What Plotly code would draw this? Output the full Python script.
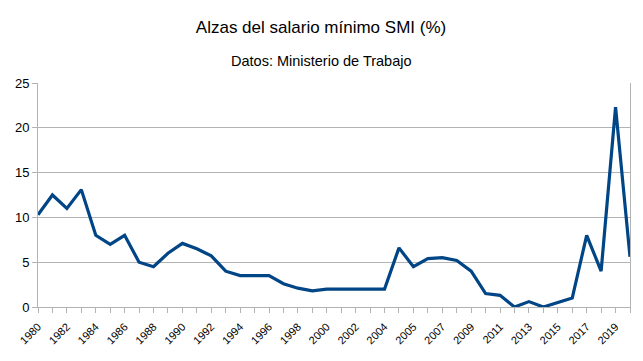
import plotly.graph_objects as go

years = ["1980", "1981", "1982", "1983", "1984", "1985", "1986", "1987", "1988", "1989",
         "1990", "1991", "1992", "1993", "1994", "1995", "1996", "1997", "1998", "1999",
         "2000", "2001", "2002", "2003", "2004", "2004", "2005", "2006", "2007", "2008",
         "2009", "2010", "2011", "2012", "2013", "2014", "2015", "2016", "2017", "2018",
         "2019", "2020"]
alzas = [10.3, 12.5, 11.0, 13.1, 8.0, 7.0, 8.0, 5.0, 4.5, 6.0,
         7.1, 6.5, 5.7, 4.0, 3.5, 3.5, 3.5, 2.6, 2.1, 1.8,
         2.0, 2.0, 2.0, 2.0, 2.0, 6.6, 4.5, 5.4, 5.5, 5.2,
         4.0, 1.5, 1.3, 0.0, 0.6, 0.0, 0.5, 1.0, 8.0, 4.0,
         22.3, 5.6]
y_ticks = [0, 5, 10, 15, 20, 25]

idx = list(range(len(years)))
ticktext = [y if i % 2 == 0 else "" for i, y in enumerate(years)]

# page body has an 8px margin, so the figure starts at (8, 8) in the window
OFF = 8
W, H = 643 - OFF, 361 - OFF
ML, MR, MT, MB = 38 - OFF, 13, 83 - OFF, 54
PH = H - MT - MB

fig = go.Figure(go.Scatter(x=idx, y=alzas, mode="lines",
                           line=dict(color="#004586", width=3.2),
                           hoverinfo="skip"))

fig.update_layout(
    width=W, height=H,
    margin=dict(l=ML, r=MR, t=MT, b=MB, autoexpand=False),
    paper_bgcolor="white", plot_bgcolor="white",
    font=dict(family="Liberation Sans, Arial, sans-serif", color="#000000"),
    showlegend=False,
    title=dict(text="Alzas del salario mínimo SMI (%)", x=(321 - OFF) / W, xanchor="center",
               y=1 - (27 - OFF) / H, yanchor="middle", yref="container",
               font=dict(size=17, color="#000000")),
    annotations=[dict(text="Datos: Ministerio de Trabajo", x=(321 - OFF - ML) / (W - ML - MR),
                      xref="paper", y=(H - MB - (61 - OFF)) / PH, yref="paper",
                      yanchor="middle", xanchor="center",
                      showarrow=False, font=dict(size=14.5, color="#000000"))],
)

fig.update_xaxes(range=[0, len(years) - 1], tickmode="array", tickvals=idx, ticktext=ticktext,
                 tickangle=-45, ticks="outside", ticklen=5, tickcolor="#b3b3b3",
                 ticklabelstandoff=3,
                 showline=True, linecolor="#b3b3b3", linewidth=1, showgrid=False,
                 zeroline=False, automargin=False, tickfont=dict(size=11, color="#000000"))
fig.update_yaxes(range=[0, 25], tickmode="array", tickvals=y_ticks,
                 ticks="outside", ticklen=5, tickcolor="#b3b3b3",
                 showline=True, mirror=True, linecolor="#b3b3b3", linewidth=1,
                 showgrid=True, gridcolor="#b3b3b3", gridwidth=1, zeroline=False,
                 automargin=False, tickfont=dict(size=13, color="#000000"))

fig.write_html("out.html")
